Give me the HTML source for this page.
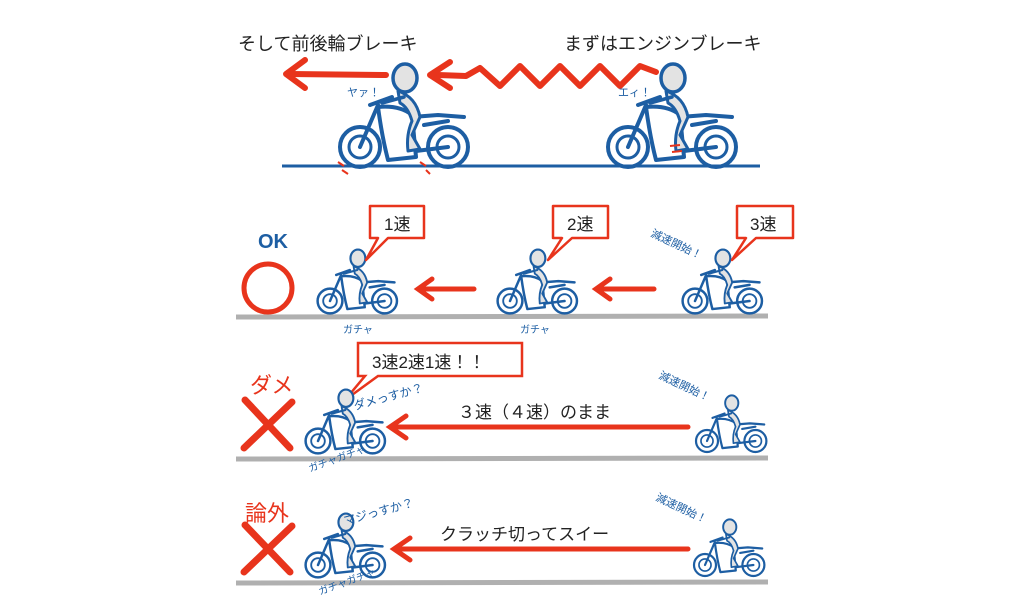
<!DOCTYPE html>
<html><head><meta charset="utf-8"><style>
html,body{margin:0;padding:0;background:#fff;}
svg{display:block}
text{font-family:"Liberation Sans","Noto Sans CJK JP",sans-serif;}
</style></head><body>
<svg width="1024" height="615" viewBox="0 0 1024 615" xmlns="http://www.w3.org/2000/svg">
<defs>
<g id="bike" fill="none" stroke="#1d5ea3" stroke-linecap="round" stroke-linejoin="round">
  <circle cx="0" cy="0" r="20" stroke-width="4"/>
  <circle cx="0" cy="0" r="11" stroke-width="3"/>
  <circle cx="88" cy="0" r="20" stroke-width="4"/>
  <circle cx="88" cy="0" r="11" stroke-width="3"/>
  <path d="M0,0 L18,-42 M10,-42 L32,-50" stroke-width="4"/>
  <path d="M18,-40 Q40,-42 52,-32 L56,10 L28,13 Q22,-10 18,-40Z" stroke-width="4"/>
  <path d="M52,-30 L78,-32 L104,-30 M64,-22 L88,-26 M56,4 L88,0" stroke-width="4"/>
  <path d="M38,-56 Q56,-50 60,-30 L52,-12 L60,2 L48,4 Q46,-12 52,-26 Q48,-40 40,-44Z" fill="#e3e3e3" stroke-width="3"/>
  <ellipse cx="45" cy="-69" rx="12" ry="14" fill="#e3e3e3" stroke-width="3.5"/>
  <path d="M44,-50 L22,-44" stroke-width="3.5"/>
</g>
</defs>

<!-- Top section -->
<text x="238" y="50" font-size="18" fill="#222">そして前後輪ブレーキ</text>
<text x="564" y="50" font-size="18" fill="#222">まずはエンジンブレーキ</text>
<line x1="282" y1="166" x2="760" y2="166" stroke="#1d5ea3" stroke-width="3"/>
<g stroke="#e8341c" stroke-width="6" fill="none" stroke-linecap="round" stroke-linejoin="round">
  <path d="M290,74 L386,75"/>
  <path d="M305,60 L286,74 L305,88"/>
  <path d="M438,75 L466,76 L480,68 L500,86 L520,66 L540,86 L560,66 L580,86 L600,66 L620,86 L640,66 L656,72"/>
  <path d="M450,62 L430,75 L450,88"/>
</g>
<use href="#bike" transform="translate(360,147)"/>
<use href="#bike" transform="translate(628,147)"/>
<text x="347" y="96" font-size="11" fill="#1d5ea3">ヤァ！</text>
<text x="618" y="96" font-size="11" fill="#1d5ea3">エィ！</text>
<g stroke="#e8341c" stroke-width="2"><path d="M338,162 l6,4 M342,170 l6,4 M420,162 l6,4 M426,170 l4,4 M670,146 l10,-1 M672,152 l10,-1"/></g>

<!-- Row 2 -->
<line x1="236" y1="317" x2="768" y2="316" stroke="#b0b0b0" stroke-width="5"/>
<text x="258" y="248" font-size="20" fill="#1d5ea3" font-weight="bold">OK</text>
<circle cx="268" cy="288" r="24" fill="none" stroke="#e8341c" stroke-width="5"/>
<g transform="translate(330,301) scale(0.62)"><use href="#bike"/></g>
<g transform="translate(510,301) scale(0.62)"><use href="#bike"/></g>
<g transform="translate(695,301) scale(0.62)"><use href="#bike"/></g>
<g stroke="#e8341c" stroke-width="5" fill="none" stroke-linecap="round">
  <path d="M420,289 L474,289 M432,279 L418,289 L432,299"/>
  <path d="M598,289 L654,289 M610,279 L596,289 L610,299"/>
</g>
<g fill="#fff" stroke="#e8341c" stroke-width="2.5" stroke-linejoin="round">
  <path d="M370,206 H424 V238 H388 L366,260 L378,238 H370Z"/>
  <path d="M553,206 H608 V238 H572 L548,260 L562,238 H553Z"/>
  <path d="M737,206 H793 V238 H756 L732,260 L746,238 H737Z"/>
</g>
<text x="384" y="230" font-size="17" fill="#222">1速</text>
<text x="567" y="230" font-size="17" fill="#222">2速</text>
<text x="750" y="230" font-size="17" fill="#222">3速</text>
<text x="650" y="236" font-size="11" fill="#1d5ea3" transform="rotate(25 650 236)">減速開始！</text>
<text x="343" y="333" font-size="10" fill="#1d5ea3">ガチャ</text>
<text x="520" y="333" font-size="10" fill="#1d5ea3">ガチャ</text>

<!-- Row 3 -->
<line x1="236" y1="459" x2="768" y2="458" stroke="#b0b0b0" stroke-width="5"/>
<text x="250" y="393" font-size="22" fill="#e8341c">ダメ</text>
<path d="M245,400 L290,448 M292,402 L244,448" stroke="#e8341c" stroke-width="7" stroke-linecap="round"/>
<g fill="#fff" stroke="#e8341c" stroke-width="2.5"><path d="M358,343 H522 V376 H378 L345,400 L365,376 H358Z"/></g>
<text x="372" y="368" font-size="17" fill="#222">3速2速1速！！</text>
<g transform="translate(318,441) scale(0.62)"><use href="#bike"/></g>
<g transform="translate(707,441) scale(0.55)"><use href="#bike"/></g>
<text x="355" y="410" font-size="12" fill="#1d5ea3" transform="rotate(-15 355 410)">ダメっすか？</text>
<text x="658" y="378" font-size="11" fill="#1d5ea3" transform="rotate(25 658 378)">減速開始！</text>
<text x="310" y="472" font-size="10" fill="#1d5ea3" transform="rotate(-20 310 472)">ガチャガチャ</text>
<g stroke="#e8341c" stroke-width="5" fill="none" stroke-linecap="round">
  <path d="M392,427 L688,427 M406,416 L390,427 L406,438"/>
</g>
<text x="458" y="418" font-size="17" fill="#222">３速（４速）のまま</text>

<!-- Row 4 -->
<line x1="236" y1="583" x2="768" y2="582" stroke="#b0b0b0" stroke-width="5"/>
<text x="245" y="521" font-size="22" fill="#e8341c">論外</text>
<path d="M245,525 L290,572 M292,526 L244,572" stroke="#e8341c" stroke-width="7" stroke-linecap="round"/>
<g transform="translate(318,565) scale(0.62)"><use href="#bike"/></g>
<g transform="translate(705,565) scale(0.55)"><use href="#bike"/></g>
<text x="345" y="525" font-size="12" fill="#1d5ea3" transform="rotate(-15 345 525)">マジっすか？</text>
<text x="655" y="500" font-size="11" fill="#1d5ea3" transform="rotate(25 655 500)">減速開始！</text>
<text x="320" y="595" font-size="10" fill="#1d5ea3" transform="rotate(-20 320 595)">ガチャガチャ</text>
<g stroke="#e8341c" stroke-width="5" fill="none" stroke-linecap="round">
  <path d="M396,549 L688,549 M410,538 L394,549 L410,560"/>
</g>
<text x="440" y="540" font-size="17" fill="#222">クラッチ切ってスイー</text>
</svg>
</body></html>
